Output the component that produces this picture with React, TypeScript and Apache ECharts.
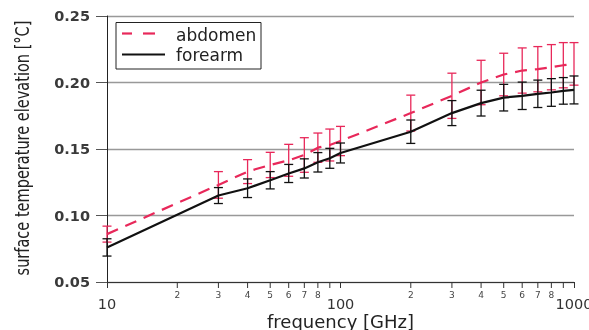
import React, { useEffect, useRef } from "react";
import * as echarts from "echarts";

const freqs = [10, 30, 40, 50, 60, 70, 80, 90, 100, 200, 300, 400, 500, 600, 700, 800, 900, 1000];
const abdomen = [0.086, 0.123, 0.133, 0.138, 0.1415, 0.1455, 0.151, 0.153, 0.156, 0.177, 0.19, 0.2, 0.206, 0.209, 0.21, 0.2115, 0.213, 0.214];
const abdomenErr = [0.006, 0.01, 0.009, 0.0095, 0.012, 0.013, 0.011, 0.012, 0.011, 0.0135, 0.017, 0.0167, 0.016, 0.017, 0.017, 0.017, 0.017, 0.016];
const forearm = [0.076, 0.115, 0.1205, 0.1265, 0.1316, 0.1354, 0.14, 0.143, 0.147, 0.163, 0.177, 0.1845, 0.1886, 0.19, 0.1915, 0.1925, 0.1937, 0.1944];
const forearmErr = [0.0065, 0.006, 0.007, 0.0065, 0.0068, 0.0072, 0.0073, 0.0075, 0.0075, 0.0088, 0.0094, 0.0097, 0.01, 0.0103, 0.0103, 0.0104, 0.01, 0.0105];
const minorTicks = [20, 30, 40, 50, 60, 70, 80, 90, 200, 300, 400, 500, 600, 700, 800, 900];
const minorLabels = ["2", "3", "4", "5", "6", "7", "8", "", "2", "3", "4", "5", "6", "7", "8", ""];
const seriesNames = ["abdomen", "forearm"];
const yTitle = "surface temperature elevation [°C]";
const xTitle = "frequency [GHz]";

const RED = "#e8285a";
const BLACK = "#111111";
const FONT = "DejaVu Sans";

function errRender(color: string) {
  return (params: any, api: any) => {
    const x = api.value(0);
    const y = api.value(1);
    const e = api.value(2);
    const top = api.coord([x, y + e]);
    const bot = api.coord([x, y - e]);
    const hw = 4.5;
    const st = { stroke: color, lineWidth: 1.3 };
    return {
      type: "group",
      children: [
        { type: "line", shape: { x1: top[0], y1: top[1], x2: bot[0], y2: bot[1] }, style: st },
        { type: "line", shape: { x1: top[0] - hw, y1: top[1], x2: top[0] + hw, y2: top[1] }, style: st },
        { type: "line", shape: { x1: bot[0] - hw, y1: bot[1], x2: bot[0] + hw, y2: bot[1] }, style: st },
      ],
    };
  };
}

export default function App() {
  const ref = useRef<HTMLDivElement>(null);
  useEffect(() => {
    const chart = echarts.init(ref.current!, null, { renderer: "svg" });
    const abdData = freqs.map((f, i) => [f, abdomen[i]]);
    const foreData = freqs.map((f, i) => [f, forearm[i]]);
    const abdErrData = freqs.map((f, i) => [f, abdomen[i], abdomenErr[i]]);
    const foreErrData = freqs.map((f, i) => [f, forearm[i], forearmErr[i]]);
    const minorData = minorTicks.map((f, i) => [f, 0.05, i]);
    chart.setOption({
      animation: false,
      grid: { left: 107, right: 15, top: 16, bottom: 48, outerBoundsMode: "none", containLabel: false },
      graphic: [
        {
          type: "text",
          x: 22,
          y: 148,
          rotation: Math.PI / 2,
          scaleX: 0.765,
          scaleY: 1,
          style: { text: yTitle, fontFamily: FONT, fontSize: 19, fill: "#222", align: "center", verticalAlign: "middle" },
        },
        {
          type: "rect",
          shape: { x: 116, y: 22.5, width: 145, height: 46.5 },
          style: { fill: "#fff", stroke: "#222", lineWidth: 1 },
          z: 10,
        },
        { type: "line", shape: { x1: 122, y1: 33.5, x2: 132, y2: 33.5 }, style: { stroke: RED, lineWidth: 2.2 }, z: 11 },
        { type: "line", shape: { x1: 143, y1: 33.5, x2: 155, y2: 33.5 }, style: { stroke: RED, lineWidth: 2.2 }, z: 11 },
        { type: "line", shape: { x1: 122, y1: 54.5, x2: 165, y2: 54.5 }, style: { stroke: BLACK, lineWidth: 2 }, z: 11 },
        {
          type: "text",
          x: 176,
          y: 35,
          style: { text: seriesNames[0], fontFamily: FONT, fontSize: 17, fill: "#222", verticalAlign: "middle" },
          z: 11,
        },
        {
          type: "text",
          x: 176,
          y: 55,
          style: { text: seriesNames[1], fontFamily: FONT, fontSize: 17, fill: "#222", verticalAlign: "middle" },
          z: 11,
        },
      ],
      xAxis: {
        type: "log",
        logBase: 10,
        min: 10,
        max: 1000,
        name: xTitle,
        nameLocation: "middle",
        nameGap: 30,
        nameMoveOverlap: false,
        nameTextStyle: { fontFamily: FONT, fontSize: 18, lineHeight: 18, color: "#222" },
        axisLine: { lineStyle: { color: "#333", width: 1 } },
        axisTick: { show: true, inside: false, length: 6, lineStyle: { color: "#333" } },
        axisLabel: {
          fontFamily: FONT,
          fontSize: 14.5,
          lineHeight: 12,
          color: "#333",
          margin: 16,
          formatter: (v: number) => String(Math.round(v)),
        },
        splitLine: { show: false },
        minorTick: { show: false },
      },
      yAxis: {
        type: "value",
        min: 0.05,
        max: 0.25,
        interval: 0.05,
        axisLine: { show: true, lineStyle: { color: "#222", width: 1 } },
        axisTick: { show: true, length: 11, lineStyle: { color: "#555" } },
        axisLabel: {
          fontFamily: FONT,
          fontSize: 14.5,
          fontWeight: "bold",
          color: "#3a3a3a",
          margin: 17,
          formatter: (v: number) => v.toFixed(2),
        },
        splitLine: { show: true, lineStyle: { color: "#999", width: 1.3 } },
      },
      series: [
        {
          type: "custom",
          name: "abdErr",
          renderItem: errRender(RED),
          data: abdErrData,
          encode: { x: 0, y: 1 },
          z: 2,
        },
        {
          type: "line",
          name: seriesNames[0],
          data: abdData,
          symbol: "none",
          lineStyle: { color: RED, width: 2.2, type: [12, 8] },
          itemStyle: { color: RED },
          z: 3,
        },
        {
          type: "custom",
          name: "foreErr",
          renderItem: errRender(BLACK),
          data: foreErrData,
          encode: { x: 0, y: 1 },
          z: 4,
        },
        {
          type: "line",
          name: seriesNames[1],
          data: foreData,
          symbol: "none",
          lineStyle: { color: BLACK, width: 2.2 },
          itemStyle: { color: BLACK },
          z: 5,
        },
        {
          type: "custom",
          name: "minorTicks",
          clip: false,
          silent: true,
          data: minorData,
          encode: { x: 0, y: 1 },
          renderItem: (params: any, api: any) => {
            const p = api.coord([api.value(0), api.value(1)]);
            const lbl = minorLabels[api.value(2)];
            const children: any[] = [
              { type: "line", shape: { x1: p[0], y1: p[1], x2: p[0], y2: p[1] + 6 }, style: { stroke: "#333", lineWidth: 1 } },
            ];
            if (lbl) {
              children.push({
                type: "text",
                x: p[0],
                y: p[1] + 8,
                style: { text: lbl, fontFamily: FONT, fontSize: 9, fill: "#444", align: "center", verticalAlign: "top" },
              });
            }
            return { type: "group", children };
          },
        },
      ],
    });
    return () => chart.dispose();
  }, []);
  return <div ref={ref} style={{ position: "fixed", left: 0, top: 0, width: 589, height: 330 }} />;
}
